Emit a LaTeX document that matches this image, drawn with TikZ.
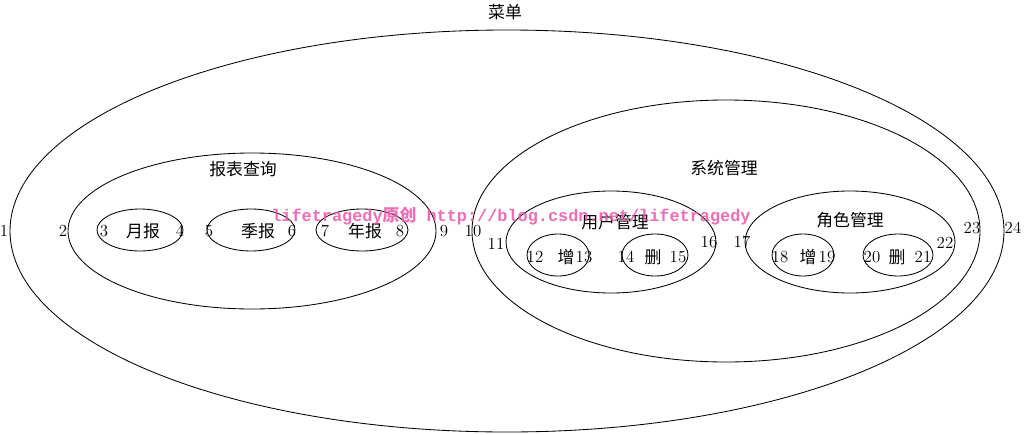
\documentclass[tikz,border=0pt]{standalone}
\usepackage{fontspec}
\newfontfamily\cjk{Noto Sans CJK SC}
\newfontfamily\wmfont{Liberation Mono}
\definecolor{wmpink}{RGB}{236,84,168}
\tikzset{
  setline/.style={line width=0.6pt},
  numlabel/.style={inner sep=0pt,font=\fontsize{12}{14}\selectfont},
  setlabel/.style={inner sep=0pt,font=\fontsize{12}{14}\selectfont\cjk},
}
\begin{document}
\begin{tikzpicture}[x=0.025cm,y=-0.025cm]
\useasboundingbox (0,0) rectangle (1024,434);
% outer set
\draw[setline] (507,231) ellipse (497 and 201);
\node[setlabel] (menu) at (505,12) {菜单};
% report branch
\draw[setline] (252,231) ellipse (184 and 78);
\draw[setline] (140,230) ellipse (43 and 21);
\draw[setline] (251,230) ellipse (44 and 21);
\draw[setline] (362,230) ellipse (46 and 21);
\node[setlabel] (report) at (243,169) {报表查询};
\node[setlabel] (month) at (143,231) {月报};
\node[setlabel] (quarter) at (258,231) {季报};
\node[setlabel] (year) at (365,231) {年报};
% system branch
\draw[setline] (726,231) ellipse (254 and 131);
\draw[setline] (611,242) ellipse (105 and 51);
\draw[setline] (558,255) ellipse (31 and 21);
\draw[setline] (655,255) ellipse (33 and 21);
\draw[setline] (850,242) ellipse (105 and 51);
\draw[setline] (803,255) ellipse (31 and 21);
\draw[setline] (898,255) ellipse (35 and 21);
\node[setlabel] (system) at (724,168) {系统管理};
\node[setlabel] (user) at (615,222) {用户管理};
\node[setlabel] (user-add) at (566,257) {增};
\node[setlabel] (user-del) at (653,257) {删};
\node[setlabel] (role) at (850,220) {角色管理};
\node[setlabel] (role-add) at (808,257) {增};
\node[setlabel] (role-del) at (897,257) {删};
% left and right values
\foreach \n/\x/\y in {1/4/231, 2/63/231, 3/104/231, 4/180/231, 5/209/231,
  6/292/231, 7/325/231, 8/400/231, 9/444/231, 10/473/231, 11/496/244,
  12/535/257, 13/584/257, 14/626/257, 15/678/257, 16/709/242, 17/742/242,
  18/780/257, 19/827/257, 20/872/257, 21/923/257, 22/945/243, 23/972/228,
  24/1013/228}
  \node[numlabel] (n\n) at (\x,\y) {\n};
% watermark
\node[inner sep=0pt,text=wmpink,opacity=0.85,font=\fontsize{12}{14}\selectfont\bfseries] (mark) at (511,216)
  {\wmfont\bfseries lifetragedy{\cjk 原创} http://blog.csdn.net/lifetragedy};
\end{tikzpicture}
\end{document}
